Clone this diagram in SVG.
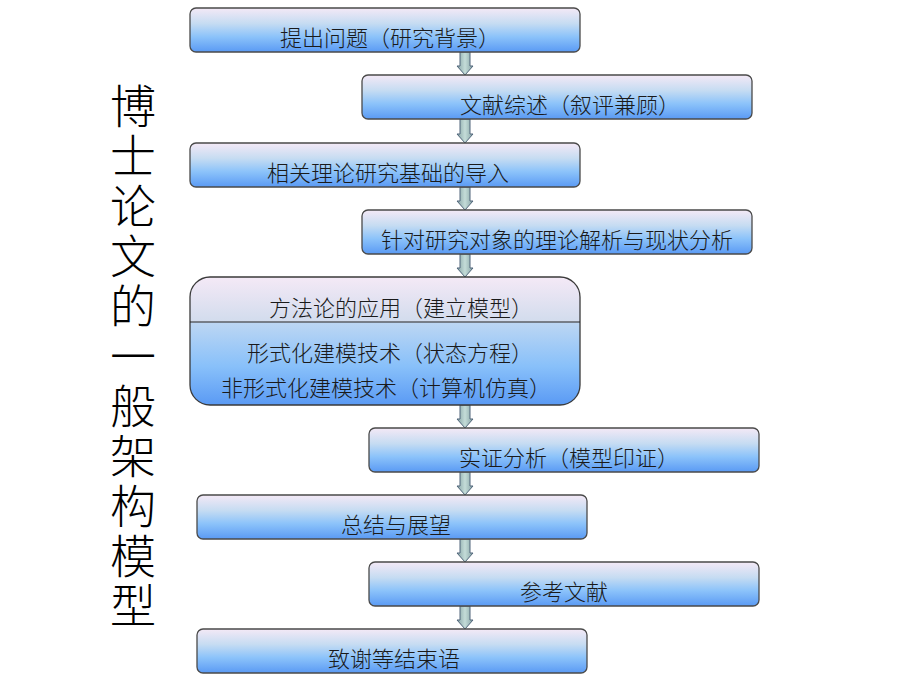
<svg xmlns="http://www.w3.org/2000/svg" width="900" height="675" viewBox="0 0 900 675">
<defs>
<linearGradient id="bg" x1="0" y1="0" x2="0" y2="1">
<stop offset="0" stop-color="#f4e9f6"/>
<stop offset="0.35" stop-color="#c6dcf2"/>
<stop offset="0.65" stop-color="#8cc3fa"/>
<stop offset="1" stop-color="#5a9af4"/>
</linearGradient>
<linearGradient id="bgBig" x1="0" y1="0" x2="0" y2="1">
<stop offset="0" stop-color="#f4e9f6"/>
<stop offset="0.35" stop-color="#d2dced"/>
<stop offset="0.36" stop-color="#bcd6f3"/>
<stop offset="0.7" stop-color="#88c0fa"/>
<stop offset="1" stop-color="#5a9af4"/>
</linearGradient>
<linearGradient id="ag" x1="0" y1="0" x2="1" y2="0">
<stop offset="0" stop-color="#86a4a6"/>
<stop offset="0.5" stop-color="#c4dcd8"/>
<stop offset="1" stop-color="#86a4a6"/>
</linearGradient>
</defs>
<style>
.box{fill:url(#bg);stroke:#4a4a4a;stroke-width:1.3}
.big{fill:url(#bgBig);stroke:#3a3a3a;stroke-width:1.3}
.t{font-family:"Noto Sans CJK SC","Noto Sans CJK TC",sans-serif;font-size:22px;font-weight:300;fill:#1a1a1a;text-anchor:middle}
.arr{fill:url(#ag);stroke:#50657a;stroke-width:1}
.title{font-family:"Noto Sans CJK SC","Noto Sans CJK JP",serif;font-size:46px;font-weight:300;fill:#000}
</style>
<rect width="900" height="675" fill="#fff"/>

<g id="connectors">
<path class="arr" d="M460,52 V66 H457 L465,75 L473,66 H470 V52 Z"/>
<path class="arr" d="M460,119 V134 H457 L465,143 L473,134 H470 V119 Z"/>
<path class="arr" d="M460,187 V201 H457 L465,210 L473,201 H470 V187 Z"/>
<path class="arr" d="M460,254 V268 H457 L465,277 L473,268 H470 V254 Z"/>
<path class="arr" d="M460,405 V419 H457 L465,428 L473,419 H470 V405 Z"/>
<path class="arr" d="M460,472 V486 H457 L465,495 L473,486 H470 V472 Z"/>
<path class="arr" d="M460,539 V553 H457 L465,562 L473,553 H470 V539 Z"/>
<path class="arr" d="M460,606 V620 H457 L465,629 L473,620 H470 V606 Z"/>
</g>

<g id="title">
<text class="title" x="133" y="83" style="writing-mode:vertical-rl;letter-spacing:3.9px">博士论文的一般架构模型</text>
</g>

<g id="n1"><rect class="box" x="190" y="8" width="390" height="44" rx="6"/><text class="t" x="390" y="46" textLength="220" lengthAdjust="spacing">提出问题（研究背景）</text></g>
<g id="n2"><rect class="box" x="362" y="75" width="390" height="44" rx="6"/><text class="t" x="570" y="113" textLength="220" lengthAdjust="spacing">文献综述（叙评兼顾）</text></g>
<g id="n3"><rect class="box" x="190" y="143" width="390" height="44" rx="6"/><text class="t" x="388" y="181">相关理论研究基础的导入</text></g>
<g id="n4"><rect class="box" x="362" y="210" width="390" height="44" rx="6"/><text class="t" x="557" y="248">针对研究对象的理论解析与现状分析</text></g>
<g id="n5"><rect class="big" x="190" y="277" width="390" height="128" rx="20"/><line x1="190" y1="322" x2="580" y2="322" stroke="#222" stroke-width="1.2"/><text class="t" x="401" y="316" textLength="264" lengthAdjust="spacing">方法论的应用（建立模型）</text><text class="t" x="390" y="361" textLength="286" lengthAdjust="spacing">形式化建模技术（状态方程）</text><text class="t" x="386" y="396" textLength="330" lengthAdjust="spacing">非形式化建模技术（计算机仿真）</text></g>
<g id="n6"><rect class="box" x="369" y="428" width="390" height="44" rx="6"/><text class="t" x="569" y="466" textLength="220" lengthAdjust="spacing">实证分析（模型印证）</text></g>
<g id="n7"><rect class="box" x="197" y="495" width="390" height="44" rx="6"/><text class="t" x="396" y="533">总结与展望</text></g>
<g id="n8"><rect class="box" x="369" y="562" width="390" height="44" rx="6"/><text class="t" x="564" y="600">参考文献</text></g>
<g id="n9"><rect class="box" x="197" y="629" width="390" height="44" rx="6"/><text class="t" x="394" y="667">致谢等结束语</text></g>
</svg>
